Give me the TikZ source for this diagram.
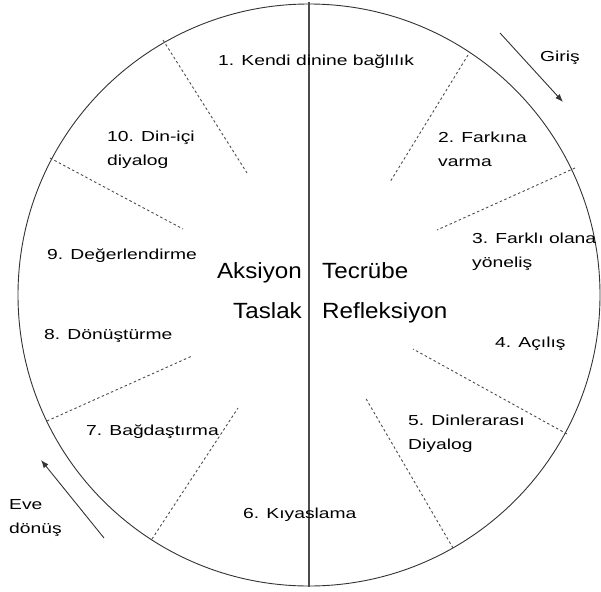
\documentclass[tikz,border=0pt]{standalone}
\usepackage{fontspec}
\setmainfont{Liberation Sans}
\newfontfamily\lblfont{Liberation Sans}[FakeStretch=1.33]
\newfontfamily\bigfont{Liberation Sans}[FakeStretch=1.1]
\usetikzlibrary{arrows.meta,positioning}

\begin{document}
\begin{tikzpicture}[x=1pt, y=-1pt, every node/.style={inner sep=0pt}, lbl/.style={font=\lblfont\fontsize{14.5}{23.5}\selectfont, anchor=base west, align=left}, big/.style={font=\bigfont\fontsize{22}{26}\selectfont}, divider/.style={black!70, line width=0.9pt, dash pattern=on 2.5pt off 2.5pt}, rim/.style={black!80, line width=0.9pt}, arrow/.style={-{Latex[length=8pt,width=6pt]}, black!80, line width=0.9pt}]
\useasboundingbox (0,0) rectangle (601,591);
\coordinate (centre) at (309,295);
\coordinate (axistop) at (309,2);
\coordinate (axisbot) at (309,587);
\draw[rim] (centre) circle[radius=291];
\draw[black!70, line width=1.2pt] (axistop) -- (axisbot);
% segment borders
\foreach \xa/\ya/\xb/\yb in {163/40/247/173, 50/158/183/229, 468/55/390/182, 575/168/437/230, 567/434/413/349, 453/548/365/397, 152/539/238/408, 47/421/192/356}
  \draw[divider] (\xa,\ya) -- (\xb,\yb);
% centre words
\node[big, anchor=base east] (aksiyon) at (302,278) {Aksiyon};
\node[big, anchor=base west] (tecrube) at (322,278) {Tecrübe};
\node[big, anchor=base east] (taslak) at (302,318) {Taslak};
\node[big, anchor=base west] (refleksiyon) at (322,318) {Refleksiyon};
% stages (two-line ones sit on their last line)
\node[lbl] (s1) at (218,66) {1. Kendi dinine bağlılık};
\node[lbl] (s2) at (438,166) {2. Farkına\\varma};
\node[lbl] (s3) at (472,267) {3. Farklı olana\\yöneliş};
\node[lbl] (s4) at (495,347) {4. Açılış};
\node[lbl] (s5) at (408,449) {5. Dinlerarası\\Diyalog};
\node[lbl] (s6) at (243,518) {6. Kıyaslama};
\node[lbl] (s7) at (86,435) {7. Bağdaştırma};
\node[lbl] (s8) at (44,339) {8. Dönüştürme};
\node[lbl] (s9) at (47,259) {9. Değerlendirme};
\node[lbl] (s10) at (107,165) {10. Din-içi\\diyalog};
% way in, way back
\node[lbl] (giris) at (540,62) {Giriş};
\node[lbl] (evedonus) at (9,533) {Eve\\dönüş};
\coordinate (ginfrom) at (500,33); \coordinate (ginto) at (563,102);
\coordinate (evefrom) at (104,538); \coordinate (eveto) at (41,460);
\draw[arrow] (ginfrom) -- (ginto); \draw[arrow] (evefrom) -- (eveto);
\end{tikzpicture}
\end{document}
